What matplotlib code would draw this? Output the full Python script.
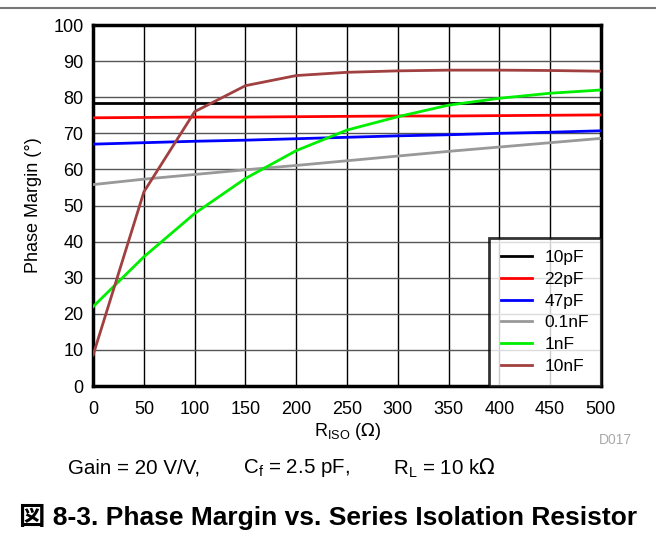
import matplotlib
matplotlib.use("Agg")
import matplotlib.pyplot as plt
from matplotlib.lines import Line2D

plt.rcParams['font.family'] = ['Liberation Sans', 'Noto Sans CJK JP', 'DejaVu Sans']

r_iso = [0, 50, 100, 150, 200, 250, 300, 350, 400, 450, 500]
pm_10pF = [78.3, 78.3, 78.3, 78.3, 78.3, 78.3, 78.3, 78.3, 78.3, 78.3, 78.3]
pm_22pF = [74.3, 74.4, 74.5, 74.5, 74.6, 74.7, 74.8, 74.8, 74.9, 75.0, 75.1]
pm_47pF = [67.0, 67.4, 67.8, 68.1, 68.5, 68.9, 69.3, 69.6, 70.0, 70.3, 70.7]
pm_01nF = [55.8, 57.3, 58.6, 59.9, 61.1, 62.4, 63.7, 65.0, 66.2, 67.4, 68.6]
pm_1nF = [22.0, 35.8, 47.8, 57.5, 65.2, 70.9, 74.6, 77.8, 79.7, 81.1, 82.0]
pm_10nF = [8.6, 53.8, 76.0, 83.2, 86.0, 86.9, 87.3, 87.5, 87.5, 87.4, 87.2]

series = [
    ("10pF", pm_10pF, "#000000"),
    ("22pF", pm_22pF, "#ff0000"),
    ("47pF", pm_47pF, "#0000ff"),
    ("0.1nF", pm_01nF, "#999999"),
    ("1nF", pm_1nF, "#00ee00"),
    ("10nF", pm_10nF, "#a04040"),
]

W, H = 656, 538
fig = plt.figure(figsize=(6.56, 5.38), dpi=100)
ax = fig.add_axes([0.142, 0.2825, 0.774, 0.671])

for name, vals, col in series:
    ax.plot(r_iso, vals, color=col, lw=2.0, label=name, zorder=3)

ax.set_xlim(0, 500)
ax.set_ylim(0, 100)
ax.set_xticks(range(0, 501, 50))
ax.set_yticks(range(0, 101, 10))
ax.xaxis.grid(True, color="black", lw=1.0)
ax.yaxis.grid(True, color="#555555", lw=1.0)
ax.set_axisbelow(True)
ax.tick_params(axis="x", length=0, labelsize=13, pad=11)
ax.tick_params(axis="y", length=0, labelsize=13, pad=7)
for s in ax.spines.values():
    s.set_linewidth(2.5)

ax.set_ylabel("Phase Margin (°)", fontsize=13, labelpad=8)
ax.set_xlabel(r"R$_{\mathregular{ISO}}$ ($\Omega$)", fontsize=13, labelpad=2)

leg = ax.legend(loc="lower right", fontsize=12.5, frameon=True, fancybox=False,
                edgecolor="black", borderaxespad=0.0, handlelength=1.8,
                labelspacing=0.38, borderpad=0.7, handletextpad=0.7)
leg.get_frame().set_linewidth(2.0)

fig.text(615 / W, 1 - 440 / H, "D017", fontsize=10, color="#aaaaaa", ha="center", va="center")
gy = 1 - 468 / H
fig.text(68 / W, gy, "Gain = 20 V/V,", fontsize=14.8, ha="left", va="center")
fig.text(243 / W, gy, r"C$_{\mathregular{f}}$ = 2.5 pF,", fontsize=14.8, ha="left", va="center")
fig.text(393 / W, gy, r"R$_{\mathregular{L}}$ = 10 k$\Omega$", fontsize=14.8, ha="left", va="center")
fig.text(0.5, 1 - 517 / H, "図 8-3. Phase Margin vs. Series Isolation Resistor", fontsize=19,
         fontweight="bold", ha="center", va="center")
fig.add_artist(Line2D([0, 1], [0.985, 0.985], color="#777777", lw=1.5, transform=fig.transFigure))

fig.savefig("out.png", dpi=100)
